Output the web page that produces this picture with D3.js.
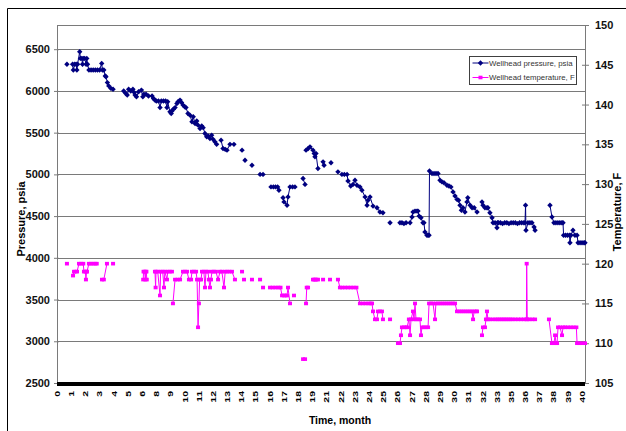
<!DOCTYPE html>
<html>
<head>
<meta charset="utf-8">
<script src="https://cdnjs.cloudflare.com/ajax/libs/d3/7.8.5/d3.min.js"></script>
<style>
  body { margin: 0; background: #fff; }
  svg { display: block; font-family: Arial, "Liberation Sans", sans-serif; }
</style>
</head>
<body>
<div id="chart"></div>
<script>
// category labels on the time axis (7, 20 and 34 are not shown in the original)
var monthLabels = [0,1,2,3,4,5,6,8,9,10,11,12,13,14,15,16,17,18,19,21,22,23,24,25,26,27,28,29,30,31,32,33,35,36,37,38,39,40];
var pressureTicks = [2500,3000,3500,4000,4500,5000,5500,6000,6500];
var tempTicks = [105,110,115,120,125,130,135,140,145,150];

// [month, psia]  (null = no reading, the line breaks there)
var pressure = [
  [0.70,6320],[1.10,6320],[1.15,6250],[1.25,6320],[1.35,6320],[1.40,6250],[1.45,6320],
  [1.60,6470],[1.65,6390],[1.75,6390],[1.80,6320],[1.85,6390],[1.95,6390],[2.05,6320],[2.10,6390],[2.15,6320],
  [2.25,6250],[2.40,6250],[2.55,6250],[2.70,6250],[2.85,6250],[3.00,6250],[3.15,6330],[3.20,6250],[3.30,6250],
  [3.40,6180],[3.45,6170],[3.55,6100],[3.65,6060],[3.80,6030],[3.95,6020],
  [4.70,6000],[4.85,5970],[4.95,5950],[5.05,6020],[5.20,6000],[5.35,6020],[5.45,5980],[5.50,5950],[5.60,5930],
  [5.75,5990],[5.95,6010],[6.10,5930],[6.25,5960],[6.55,5960],[6.90,5940],[7.40,5940],[7.60,5910],[7.80,5890],
  [8.00,5880],[8.15,5880],[8.26,5800],[8.35,5880],[8.50,5880],[8.65,5880],[8.75,5800],[8.80,5870],
  [8.96,5750],[9.05,5730],[9.10,5760],[9.20,5780],[9.32,5800],[9.45,5850],[9.53,5870],[9.67,5890],[9.78,5860],
  [9.88,5830],[10.00,5810],[10.09,5800],[10.23,5730],[10.37,5710],[10.51,5630],[10.60,5690],[10.73,5610],
  [10.85,5640],[10.94,5590],[11.08,5550],[11.20,5580],[11.30,5560],[11.43,5490],[11.55,5450],[11.65,5460],
  [11.78,5430],[11.90,5470],[12.00,5420],[12.13,5390],[12.25,5360],
  [12.56,5410],[12.70,5310],[12.85,5300],[12.98,5290],[13.19,5360],[13.47,5360],
  [14.04,5290],[14.10,null],[14.25,5170],[14.74,5110],[15.31,5000],[15.52,5000],
  [16.08,4850],[16.25,4850],[16.40,4850],[16.55,4850],[16.64,4810],[16.93,4720],[17.00,4670],[17.21,4630],
  [17.28,4730],[17.42,4850],[17.60,4850],[17.77,4850],
  [18.34,4950],[18.48,4880],[18.50,null],[18.55,5290],[18.70,5310],[18.83,5330],[19.08,5290],[19.25,5250],[19.36,5210],
  [19.50,5250],[19.78,5070],[20.50,5150],[20.64,5110],[21.31,5140],[21.80,5030],
  [22.08,5000],[22.25,5000],[22.44,5000],[22.51,4920],[22.70,4860],[22.86,4880],[23.00,4930],[23.14,4870],
  [23.35,4850],[23.49,4810],[23.71,4730],[23.85,4630],[23.92,4690],[24.06,4730],[24.27,4620],[24.55,4600],
  [24.76,4550],[24.97,4540],[25.47,4420],
  [26.17,4420],[26.31,4420],[26.45,4410],[26.60,4420],[26.88,4420],[27.02,4490],[27.09,4550],[27.23,4560],
  [27.37,4560],[27.44,4560],[27.52,4500],[27.65,4480],[27.79,4420],[27.86,4420],[27.93,4310],[28.07,4270],
  [28.15,4270],[28.22,4270],[28.25,5040],[28.43,5010],[28.57,5010],[28.71,5010],[28.85,5010],[28.99,4930],
  [29.13,4910],[29.27,4900],[29.48,4870],[29.62,4860],[29.76,4850],[29.91,4790],[30.05,4740],[30.19,4700],
  [30.30,4690],[30.40,4630],[30.50,4570],[30.61,4600],[30.75,4550],[30.89,4670],[30.95,4720],[31.11,4630],
  [31.25,4600],[31.40,4600],[31.60,4550],
  [31.95,4670],[32.02,4630],[32.16,4600],[32.30,4600],[32.37,4600],[32.51,4540],[32.66,4480],[32.73,4420],
  [32.87,4420],[33.01,4360],[33.08,4420],[33.22,4420],[33.50,4420],[33.80,4410],[34.10,4420],[34.40,4420],
  [34.70,4410],[35.00,4420],[35.15,4420],[35.30,4420],[35.45,4410],[35.60,4420],[35.75,4420],[35.90,4420],
  [35.98,4420],[36.02,4630],[36.05,4330],[36.19,4420],[36.33,4420],[36.47,4420],[36.62,4370],[36.69,4330],
  [37.74,4630],[37.88,4490],[38.02,4420],[38.16,4420],[38.30,4420],[38.44,4420],[38.58,4420],[38.66,4420],
  [38.70,4270],[38.84,4270],[38.98,4270],[39.12,4270],[39.15,4180],[39.22,4270],[39.36,4330],[39.50,4270],
  [39.65,4270],[39.72,4180],[39.86,4180],[40.00,4180],[40.14,4180],[40.21,4180]
];

// [month, deg F]
var temperature = [
  [0.70,120],[1.13,118.5],[1.20,119],[1.30,119],[1.41,119],[1.55,120],[1.70,120],[1.85,120],[1.90,119],
  [2.00,119],[2.04,118],[2.08,119],[2.11,119],[2.25,120],[2.40,120],[2.55,120],[2.70,120],[2.80,120],
  [3.17,118],[3.30,118],[3.52,120],[3.95,120],
  [6.15,118],[6.20,119],[6.35,119],[6.45,118],[6.50,119],[6.60,119],[6.65,118],
  [7.81,119],[7.90,117],[7.95,119],[8.10,119],[8.26,116],[8.30,119],[8.45,119],[8.54,117],[8.60,119],
  [8.75,118],[8.80,119],[8.95,119],[9.10,119],[9.12,null],[9.17,115],[9.32,118],[9.50,118],[9.67,118],[9.88,119],
  [10.02,119],[10.16,119],[10.30,118],[10.45,118],[10.51,119],[10.65,119],[10.80,119],[10.87,118],
  [10.94,112],[11.00,115],[11.05,118],[11.15,118],[11.22,119],[11.35,119],[11.43,117],[11.50,119],
  [11.64,119],[11.70,118],[11.78,117],[11.85,118],[11.92,119],[12.05,119],[12.20,119],[12.35,118],
  [12.49,119],[12.62,119],[12.77,117],[12.85,119],[13.00,119],[13.15,119],[13.33,119],
  [13.54,118],[14.04,119],[14.10,null],[14.18,118],[14.74,118],[15.31,118],[15.40,null],[15.52,117],
  [16.01,117],[16.20,117],[16.40,117],[16.60,117],[16.75,117],[16.86,116],[17.00,116],[17.10,116],
  [17.21,116],[17.28,117],[17.42,115],[17.70,116],
  [18.34,108],[18.48,108],[18.50,null],[18.55,115],[18.60,117],[18.69,117],
  [19.08,118],[19.25,118],[19.40,118],[19.55,118],[19.78,118],[20.50,118],[21.24,118],[21.80,118],
  [21.94,117],[22.10,117],[22.30,117],[22.50,117],[22.70,117],[22.90,117],[23.10,117],
  [23.35,115],[23.55,115],[23.75,115],[23.95,115],[24.10,115],[24.20,115],[24.27,114],[24.41,113],
  [24.55,113],[24.62,114],[24.76,114],[24.90,114],[24.97,113],[25.47,113],
  [26.03,110],[26.17,110],[26.24,111],[26.31,112],[26.45,112],[26.60,112],[26.67,112],[26.80,113],
  [26.88,111],[26.95,113],[27.09,114],[27.16,113],[27.23,115],[27.30,113],[27.44,113],[27.58,113],
  [27.65,111],[27.72,112],[27.86,112],[28.00,112],[28.15,112],[28.22,115],[28.36,115],[28.50,115],
  [28.64,113],[28.70,115],[28.85,115],[29.00,115],[29.15,115],[29.30,115],[29.45,115],[29.60,115],
  [29.75,115],[29.90,115],[30.05,115],[30.19,114],[30.35,114],[30.50,114],[30.65,114],[30.80,114],
  [30.95,114],[31.10,114],[31.25,114],[31.32,113],[31.40,114],[31.55,114],[31.60,114],
  [31.95,111],[32.02,112],[32.16,112],[32.23,113],[32.30,114],[32.37,113],[32.50,113],[32.70,113],
  [32.90,113],[33.10,113],[33.40,113],[33.70,113],[34.00,113],[34.30,113],[34.60,113],[34.90,113],
  [35.10,113],[35.30,113],[35.50,113],[35.70,113],[35.90,113],[36.08,113],[36.10,120],[36.14,113],
  [36.30,113],[36.50,113],[36.69,113],
  [37.67,113],[37.88,110],[38.02,110],[38.10,111],[38.17,110],[38.24,110],[38.31,112],[38.45,112],
  [38.59,111],[38.66,112],[38.80,112],[39.00,112],[39.20,112],[39.40,112],[39.60,112],[39.65,110],
  [39.80,110],[40.00,110],[40.21,110]
];

var width = 626, height = 431;
var margin = {top: 25, right: 41, bottom: 48, left: 57};
var innerW = width - margin.left - margin.right;
var innerH = height - margin.top - margin.bottom;
var step = 14.19;
var gridColor = '#7a7a7a';

var svg = d3.select('#chart').append('svg')
    .attr('width', width)
    .attr('height', height);

// outer chart frame (runs off the picture on right and bottom)
svg.append('path')
    .attr('d', 'M7.5,' + height + 'V8.5H' + width)
    .attr('fill', 'none')
    .attr('stroke', '#000');

var g = svg.append('g').attr('transform', 'translate(' + margin.left + ',' + margin.top + ')');

// month -> position of its category label
var x = d3.scaleLinear()
    .domain(monthLabels)
    .range(monthLabels.map(function(d, i) { return i * step; }));
var yP = d3.scaleLinear().domain([2500, 6790]).range([innerH, 0]);
var yT = d3.scaleLinear().domain([105, 150]).range([innerH, 0]);

// grid
g.selectAll('.grid').data(pressureTicks.slice(1)).enter().append('line')
    .attr('x1', 0).attr('x2', innerW)
    .attr('y1', function(d) { return Math.round(yP(d)) + 0.5; })
    .attr('y2', function(d) { return Math.round(yP(d)) + 0.5; })
    .attr('stroke', gridColor);
g.append('line').attr('x1', 0).attr('x2', innerW).attr('y1', 0.5).attr('y2', 0.5).attr('stroke', gridColor);

// left axis
var gL = g.append('g')
    .call(d3.axisLeft(yP).tickValues(pressureTicks).tickFormat(d3.format('d'))
      .tickSize(3).tickSizeOuter(0).tickPadding(4));
gL.select('.domain').attr('stroke', gridColor);
gL.selectAll('.tick line').attr('x1', 2).attr('stroke', gridColor);
gL.attr('font-family', 'Arial, "Liberation Sans", sans-serif').attr('font-size', 11).attr('font-weight', 'bold');
gL.selectAll('.tick text').attr('fill', '#111');

// right axis
var gR = g.append('g')
    .attr('transform', 'translate(' + innerW + ',0)')
    .call(d3.axisRight(yT).tickValues(tempTicks).tickFormat(d3.format('d'))
      .tickSize(4).tickSizeOuter(0).tickPadding(6));
gR.select('.domain').attr('stroke', gridColor);
gR.selectAll('.tick line').attr('x1', -3).attr('stroke', gridColor);
gR.attr('font-family', 'Arial, "Liberation Sans", sans-serif').attr('font-size', 11).attr('font-weight', 'bold');
gR.selectAll('.tick text').attr('fill', '#111');

// thick category axis
g.append('rect')
    .attr('x', 0).attr('y', innerH - 1)
    .attr('width', innerW).attr('height', 4)
    .attr('fill', '#000');

g.selectAll('.xlab').data(monthLabels).enter().append('text')
    .attr('class', 'xlab')
    .attr('transform', function(d) {
      return 'translate(' + (x(d) + 2.8) + ',' + (innerH + 8) + ') rotate(-90) scale(1,0.7)';
    })
    .attr('text-anchor', 'end')
    .attr('font-size', 10.5)
    .attr('font-weight', 'bold')
    .attr('fill', '#000')
    .text(function(d) { return d; });

// axis titles
svg.append('text')
    .attr('x', 340).attr('y', 424)
    .attr('text-anchor', 'middle')
    .attr('font-size', 10.5).attr('font-weight', 'bold')
    .text('Time, month');
svg.append('text')
    .attr('transform', 'translate(25,219) rotate(-90)')
    .attr('text-anchor', 'middle')
    .attr('font-size', 11).attr('font-weight', 'bold')
    .text('Pressure, psia');
svg.append('text')
    .attr('transform', 'translate(621,212) rotate(-90)')
    .attr('text-anchor', 'middle')
    .attr('font-size', 11).attr('font-weight', 'bold')
    .text('Temperature, F');

// split a series where the record has a gap
function segments(data) {
  var out = [], cur = [];
  data.forEach(function(d, i) {
    if (d[1] == null) { if (cur.length) out.push(cur); cur = []; return; }
    if (cur.length && x(d[0]) - x(cur[cur.length - 1][0]) > 3.6) { out.push(cur); cur = []; }
    cur.push(d);
  });
  if (cur.length) out.push(cur);
  return out;
}

var diamond = 'M0,-2.7L2.7,0L0,2.7L-2.7,0Z';

function drawSeries(data, yScale, color, marker) {
  var line = d3.line()
      .x(function(d) { return x(d[0]); })
      .y(function(d) { return yScale(d[1]); });
  g.append('g').selectAll('path').data(segments(data)).enter().append('path')
      .attr('d', line)
      .attr('fill', 'none')
      .attr('stroke', color)
      .attr('stroke-width', 1);
  var pts = data.filter(function(d) { return d[1] != null; });
  var m = g.append('g').selectAll('.m').data(pts).enter();
  if (marker == 'diamond') {
    m.append('path')
        .attr('d', diamond)
        .attr('transform', function(d) { return 'translate(' + x(d[0]) + ',' + yScale(d[1]) + ')'; })
        .attr('fill', color);
  } else {
    m.append('rect')
        .attr('x', function(d) { return x(d[0]) - 2; })
        .attr('y', function(d) { return yScale(d[1]) - 1.8; })
        .attr('width', 4).attr('height', 3.6)
        .attr('fill', color);
  }
}

drawSeries(pressure, yP, '#000080', 'diamond');
drawSeries(temperature, yT, '#ff00ff', 'square');

// legend
var leg = svg.append('g').attr('transform', 'translate(469.5,56.5)');
leg.append('rect')
    .attr('width', 107).attr('height', 28)
    .attr('fill', '#fff').attr('stroke', '#404040');
var items = [
  {label: 'Wellhead pressure, psia', color: '#000080', marker: 'diamond'},
  {label: 'Wellhead temperature, F', color: '#ff00ff', marker: 'square'}
];
items.forEach(function(it, i) {
  var yy = 6.5 + i * 14.5;
  leg.append('line')
      .attr('x1', 3).attr('x2', 19).attr('y1', yy).attr('y2', yy)
      .attr('stroke', it.color);
  if (it.marker == 'diamond') {
    leg.append('path').attr('d', diamond).attr('transform', 'translate(11,' + yy + ')').attr('fill', it.color);
  } else {
    leg.append('rect').attr('x', 9).attr('y', yy - 1.8).attr('width', 4).attr('height', 3.6).attr('fill', it.color);
  }
  leg.append('text')
      .attr('x', 19.5).attr('y', yy + 2.8)
      .attr('font-size', 7.8)
      .attr('fill', '#333')
      .text(it.label);
});
</script>
</body>
</html>
